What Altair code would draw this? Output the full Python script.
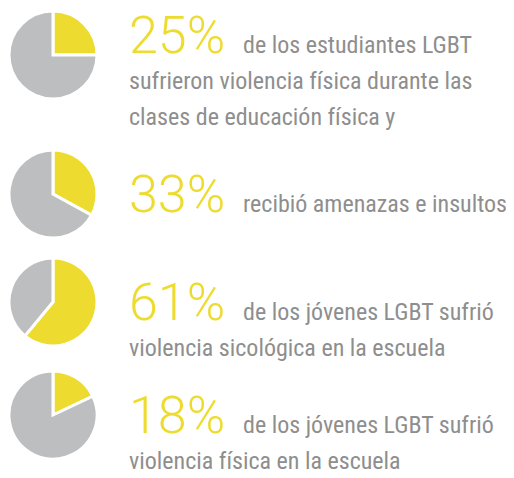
import altair as alt
import pandas as pd

# ---- data ----
pcts = [25, 33, 61, 18]
first_lines = [
    "de los estudiantes LGBT",
    "recibió amenazas e insultos",
    "de los jóvenes LGBT sufrió",
    "de los jóvenes LGBT sufrió",
]
more_lines = [
    ["sufrieron violencia física durante las", "clases de educación física y"],
    [],
    ["violencia sicológica en la escuela"],
    ["violencia física en la escuela"],
]

# ---- layout / style ----
YELLOW = "#EDDC2F"
PIE_GRAY = "#BDBEC0"
TEXT_GRAY = "#8E8E8E"
pie_cx = 45
pie_cy = [47, 186, 294, 407]
pct_baseline = [45, 204, 312, 425]
line_gap = 36
pct_x = 121
first_x = 235
PCT_FONT = "Roboto"
TXT_FONT = "Roboto Condensed"
TXT_SIZE = 24

theta_scale = alt.Scale(domain=[0, 100], range=[0, 6.283185307179586])

layers = []
for i, p in enumerate(pcts):
    pie_df = pd.DataFrame({
        "part": ["si", "no"],
        "start": [0, p],
        "end": [p, 100],
    })
    pie = alt.Chart(pie_df).mark_arc(radius=44, stroke="white", strokeWidth=3).encode(
        theta=alt.Theta("start:Q", scale=theta_scale),
        theta2="end:Q",
        color=alt.Color("part:N", scale=alt.Scale(domain=["si", "no"], range=[YELLOW, PIE_GRAY]), legend=None),
        x=alt.value(pie_cx),
        y=alt.value(pie_cy[i]),
    )
    layers.append(pie)

    pct_txt = alt.Chart(pd.DataFrame({"t": [f"{p}%"]})).mark_text(
        align="left", baseline="alphabetic", font=PCT_FONT, fontWeight=300,
        fontSize=52, color=YELLOW,
    ).encode(text="t:N", x=alt.value(pct_x), y=alt.value(pct_baseline[i]))
    layers.append(pct_txt)

    first = alt.Chart(pd.DataFrame({"t": [first_lines[i]]})).mark_text(
        align="left", baseline="alphabetic", font=TXT_FONT,
        fontSize=TXT_SIZE, color=TEXT_GRAY,
    ).encode(text="t:N", x=alt.value(first_x), y=alt.value(pct_baseline[i]))
    layers.append(first)

    for j, line in enumerate(more_lines[i]):
        t = alt.Chart(pd.DataFrame({"t": [line]})).mark_text(
            align="left", baseline="alphabetic", font=TXT_FONT,
            fontSize=TXT_SIZE, color=TEXT_GRAY,
        ).encode(text="t:N", x=alt.value(pct_x), y=alt.value(pct_baseline[i] + line_gap * (j + 1)))
        layers.append(t)

chart = alt.layer(*layers).properties(
    width=498, height=462, padding=0, autosize=alt.AutoSizeParams(type="none")
).configure_view(strokeWidth=0).resolve_scale(color="independent", theta="independent")

chart.save("out.html", embed_options={"renderer": "svg", "actions": False})
